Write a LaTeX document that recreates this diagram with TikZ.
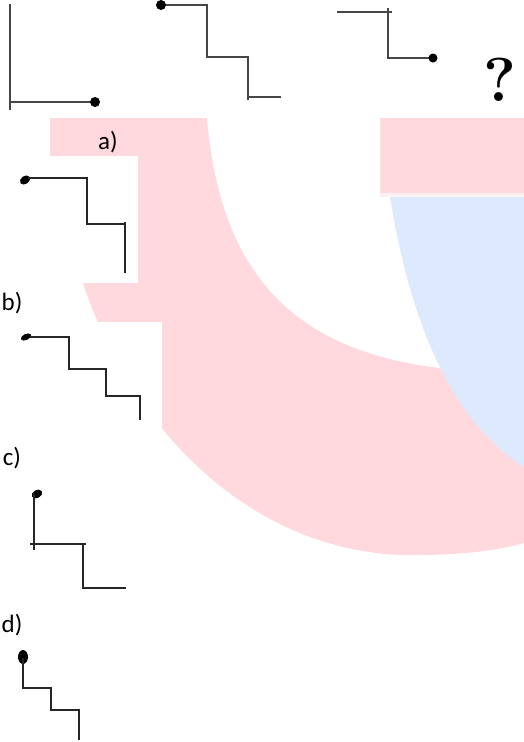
\documentclass[tikz,border=0pt]{standalone}
\usepackage{fontspec}
\setmainfont{Carlito}
\newfontfamily\qfont{Latin Modern Roman}
\definecolor{bgpink}{RGB}{255,217,222}
\definecolor{bgblue}{RGB}{221,233,252}
\definecolor{linegray}{RGB}{70,70,70}
\tikzset{
  topline/.style={draw=linegray, line width=1.8pt},
  lowline/.style={draw=black!85, line width=1.3pt},
  lbl/.style={font=\fontsize{25}{25}\selectfont, inner sep=0pt},
  qmark/.style={font=\qfont\fontsize{62}{62}\selectfont\bfseries, inner sep=0pt}
}
\begin{document}
\begin{tikzpicture}[x=1pt,y=-1pt]
\useasboundingbox (0,0) rectangle (524,742);
\fill[white] (0,0) rectangle (524,742);
% background watermark shapes
\fill[bgpink] (50,118) -- (524,118) -- (524,543)
  .. controls (500,550) and (460,556) .. (400,555)
  .. controls (245,548) and (130,425) .. (83,283)
  -- (50,250) -- cycle;
\fill[white] (0,156) rectangle (138,283);
\fill[white] (0,322) rectangle (162,742);
\fill[white] (207,118) .. controls (220,270) and (290,350) .. (440,368)
  -- (460,368) -- (460,195) -- (380,195) -- (380,118) -- cycle;
\fill[bgpink!40] (380,193) rectangle (524,197);
\fill[bgblue] (390,197) .. controls (410,320) and (450,420) .. (524,467)
  -- (524,197) -- cycle;
% top row
\draw[topline] (10,4) -- (10,110);
\draw[topline] (10,102) -- (95,102);
\fill (95,102) circle (5pt);
\draw[topline] (161,5) -- (207,5) -- (207,57) -- (248,57) -- (248,100);
\draw[topline] (248,97) -- (281,97);
\fill (161,5) circle (5pt);
\draw[topline] (337,12) -- (392,12);
\draw[topline] (388,8) -- (388,58) -- (433,58);
\fill (433,58) circle (4.5pt);
\node[qmark] (q) at (500,80) {?};
% option a
\node[lbl] (la) at (108,142) {a)};
\fill[rotate around={35:(25,180)}] (25,180) ellipse (5.5pt and 4pt);
\draw[lowline] (28,178) -- (87,178);
\draw[lowline] (87,177) -- (87,224) -- (125,224);
\draw[lowline] (125,222) -- (125,273);
% option b
\node[lbl] (lb) at (12,303) {b)};
\fill[rotate around={25:(26,337)}] (26,337) ellipse (5.5pt and 3pt);
\draw[lowline] (30,337) -- (69,337) -- (69,369) -- (106,369) -- (106,396) -- (140,396) -- (140,420);
% option c
\node[lbl] (lc) at (12,458) {c)};
\fill[rotate around={30:(37,494)}] (37,494) ellipse (5.5pt and 4pt);
\draw[lowline] (34,493) -- (34,550);
\draw[lowline] (30,544) -- (86,544);
\draw[lowline] (83,544) -- (83,588) -- (126,588);
% option d
\node[lbl] (ld) at (12,625) {d)};
\fill (23,657) ellipse (5pt and 7pt);
\draw[lowline] (23,658) -- (23,688) -- (51,688) -- (51,710) -- (79,710) -- (79,740);
\end{tikzpicture}
\end{document}
